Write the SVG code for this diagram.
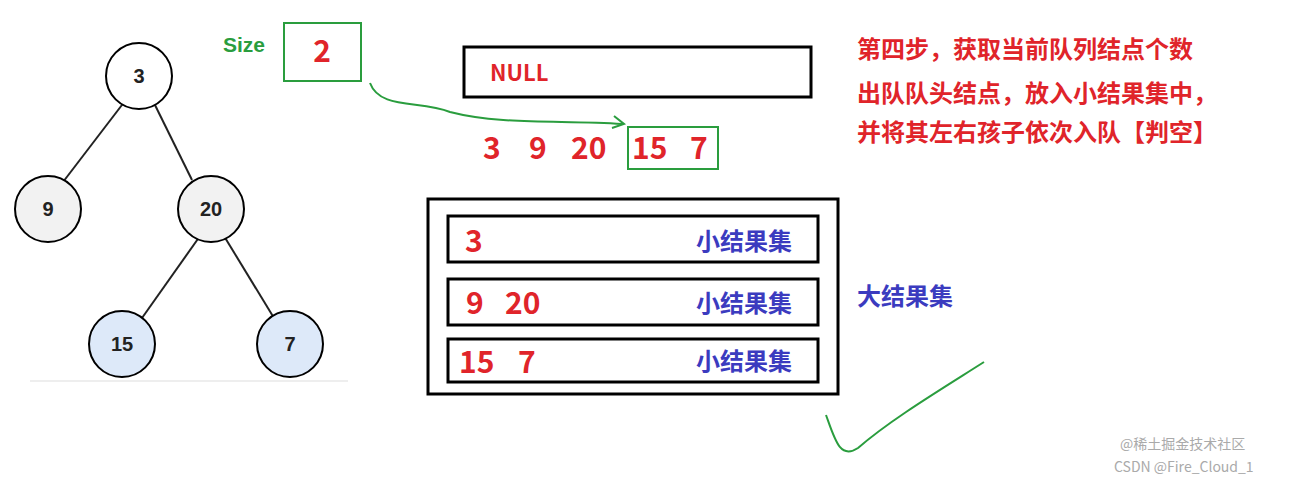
<svg xmlns="http://www.w3.org/2000/svg" width="1296" height="481" viewBox="0 0 1296 481">
<style>
.n{stroke:#000;stroke-width:2}
.nt{font-family:"Liberation Sans",Arial,sans-serif;font-weight:bold;font-size:20px;text-anchor:middle;fill:#222}
.r{font-family:"Noto Sans CJK SC","Liberation Sans",sans-serif;font-weight:bold;fill:#e0242a}
.b{font-family:"Noto Sans CJK SC",sans-serif;font-weight:bold;fill:#3b3bbf;font-size:24px}
.box{fill:none;stroke:#000;stroke-width:3}
.g{fill:none;stroke:#2a9d3e;stroke-width:2}
</style>
<rect width="1296" height="481" fill="#fff"/>
<g id="connectors" stroke="#222" stroke-width="2">
<line x1="125" y1="101" x2="63" y2="182"/><line x1="153" y1="101" x2="192" y2="180"/>
<line x1="200" y1="236" x2="142" y2="318"/><line x1="224" y1="236" x2="274" y2="318"/>
<line x1="30" y1="381" x2="348" y2="381" stroke="#ddd" stroke-width="1"/>
<path d="M370 83 C380 110 420 100 450 112 C500 125 560 120 622 124" class="g" stroke-width="1.5"/>
<path d="M614 116 L624 124 L612 128" class="g" stroke-width="1.5"/>
<path d="M826 415 C835 440 840 460 858 448 C890 420 940 390 984 362" class="g" stroke-width="1.5"/>
</g>
<g id="n3"><circle cx="139" cy="76" r="33" fill="#fff" class="n"/><text x="139" y="83" class="nt">3</text></g>
<g id="n9"><circle cx="48" cy="209" r="33" fill="#f2f2f2" class="n"/><text x="48" y="216" class="nt">9</text></g>
<g id="n20"><circle cx="211" cy="209" r="33" fill="#f2f2f2" class="n"/><text x="211" y="216" class="nt">20</text></g>
<g id="n15"><circle cx="122" cy="344" r="33" fill="#dde9f9" class="n"/><text x="122" y="351" class="nt">15</text></g>
<g id="n7"><circle cx="290" cy="344" r="33" fill="#dde9f9" class="n"/><text x="290" y="351" class="nt">7</text></g>
<g id="size"><text x="223" y="52" font-family="Liberation Sans,sans-serif" font-weight="bold" font-size="21" fill="#2a9d3e">Size</text>
<rect x="284" y="23" width="77" height="58" class="g" stroke-width="2.5"/><text x="322" y="62" class="r" font-size="30" text-anchor="middle">2</text></g>
<g id="null"><rect x="464" y="47" width="347" height="50" class="box"/><text x="490" y="81" class="r" font-size="22">NULL</text></g>
<g id="queue"><text x="483" y="159" class="r" font-size="30">3</text><text x="529" y="159" class="r" font-size="30">9</text><text x="571" y="159" class="r" font-size="30">20</text>
<rect x="628" y="127" width="90" height="42" class="g"/><text x="632" y="159" class="r" font-size="30">15</text><text x="690" y="159" class="r" font-size="30">7</text></g>
<g id="big"><rect x="428" y="199" width="410" height="195" class="box"/><text x="857" y="305" class="b">大结果集</text></g>
<g id="s1"><rect x="448" y="216" width="370" height="46" class="box"/><text x="465" y="252" class="r" font-size="30">3</text><text x="696" y="250" class="b">小结果集</text></g>
<g id="s2"><rect x="448" y="279" width="370" height="46" class="box"/><text x="466" y="314" class="r" font-size="30">9</text><text x="505" y="314" class="r" font-size="30">20</text><text x="696" y="312" class="b">小结果集</text></g>
<g id="s3"><rect x="448" y="339" width="370" height="43" class="box"/><text x="459" y="373" class="r" font-size="30">15</text><text x="518" y="373" class="r" font-size="30">7</text><text x="696" y="370" class="b">小结果集</text></g>
<g id="desc" class="r" font-size="24"><text x="857" y="58">第四步，获取当前队列结点个数</text><text x="857" y="102">出队队头结点，放入小结果集中，</text><text x="857" y="141">并将其左右孩子依次入队【判空】</text></g>
<g id="wm" font-family="Noto Sans CJK SC,sans-serif" font-size="14" fill="#aaa"><text x="1120" y="449">@稀土掘金技术社区</text><text x="1114" y="472">CSDN @Fire_Cloud_1</text></g>
</svg>
